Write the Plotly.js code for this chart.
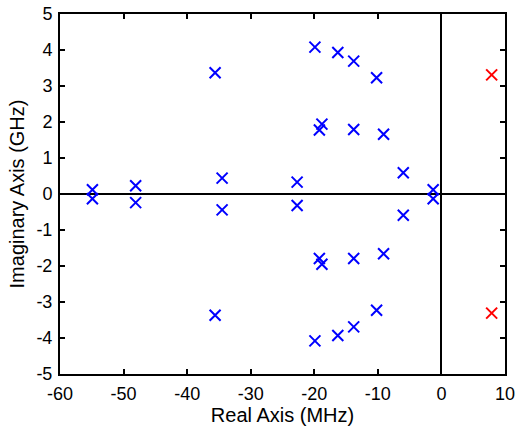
<!DOCTYPE html>
<html>
<head>
<meta charset="utf-8">
<script src="https://cdn.plot.ly/plotly-3.0.1.min.js"></script>
<style>html,body{margin:0;padding:0;background:#fff;}#chart{width:516px;height:428px;}</style>
</head>
<body>
<div id="chart"></div>
<script>
// Stable poles (blue), real part in MHz, imaginary part in GHz
const stableReal = [-54.9, -54.9, -48.1, -48.1, -35.6, -35.6, -34.5, -34.5,
  -22.7, -22.7, -19.9, -19.9, -16.3, -16.3, -13.8, -13.8, -10.2, -10.2,
  -18.8, -18.8, -19.2, -19.2, -13.8, -13.8, -9.1, -9.1, -6.0, -6.0, -1.3, -1.3];
const stableImag = [0.12, -0.13, 0.23, -0.24, 3.37, -3.37, 0.44, -0.44,
  0.33, -0.32, 4.08, -4.08, 3.93, -3.93, 3.69, -3.69, 3.23, -3.23,
  1.94, -1.95, 1.78, -1.79, 1.79, -1.79, 1.66, -1.66, 0.59, -0.59, 0.12, -0.13];
// Unstable poles (red)
const unstableReal = [7.9, 7.9];
const unstableImag = [3.31, -3.31];

const xTicks = [-60, -50, -40, -30, -20, -10, 0, 10];
const xTickText = ["-60", "-50", "-40", "-30", "-20", "-10", "0", "10"];
const yTicks = [-5, -4, -3, -2, -1, 0, 1, 2, 3, 4, 5];
const yTickText = ["-5", "-4", "-3", "-2", "-1", "0", "1", "2", "3", "4", "5"];

const traces = [
  {x: stableReal, y: stableImag, mode: 'markers', type: 'scatter',
   marker: {symbol: 'x-thin', size: 11, color: '#0000ff', line: {width: 2, color: '#0000ff'}}},
  {x: unstableReal, y: unstableImag, mode: 'markers', type: 'scatter',
   marker: {symbol: 'x-thin', size: 11, color: '#ff0000', line: {width: 2, color: '#ff0000'}}}
];

const fontFam = 'Liberation Sans, Arial, sans-serif';
const axisCommon = {
  showgrid: false, zeroline: true, zerolinecolor: '#000', zerolinewidth: 2,
  showline: true, linecolor: '#000', linewidth: 2, mirror: 'ticks',
  ticks: 'inside', ticklen: 5, tickwidth: 2, tickcolor: '#000',
  tickfont: {family: fontFam, size: 18, color: '#000'}
};
const layout = {
  width: 516, height: 428,
  margin: {l: 60, r: 11, t: 14, b: 54},
  paper_bgcolor: '#fff', plot_bgcolor: '#fff',
  showlegend: false,
  xaxis: Object.assign({}, axisCommon, {
    range: [-60, 10], tickmode: 'array', tickvals: xTicks, ticktext: xTickText,
    ticklabelstandoff: 2,
    title: {text: 'Real Axis (MHz)', font: {family: fontFam, size: 20, color: '#000'}, standoff: 4}
  }),
  yaxis: Object.assign({}, axisCommon, {
    range: [-5, 5], tickmode: 'array', tickvals: yTicks, ticktext: yTickText,
    ticklabelstandoff: 2,
    title: {text: 'Imaginary Axis (GHz)', font: {family: fontFam, size: 20, color: '#000'}, standoff: 6}
  })
};
Plotly.newPlot('chart', traces, layout, {staticPlot: true, displayModeBar: false});
</script>
</body>
</html>
